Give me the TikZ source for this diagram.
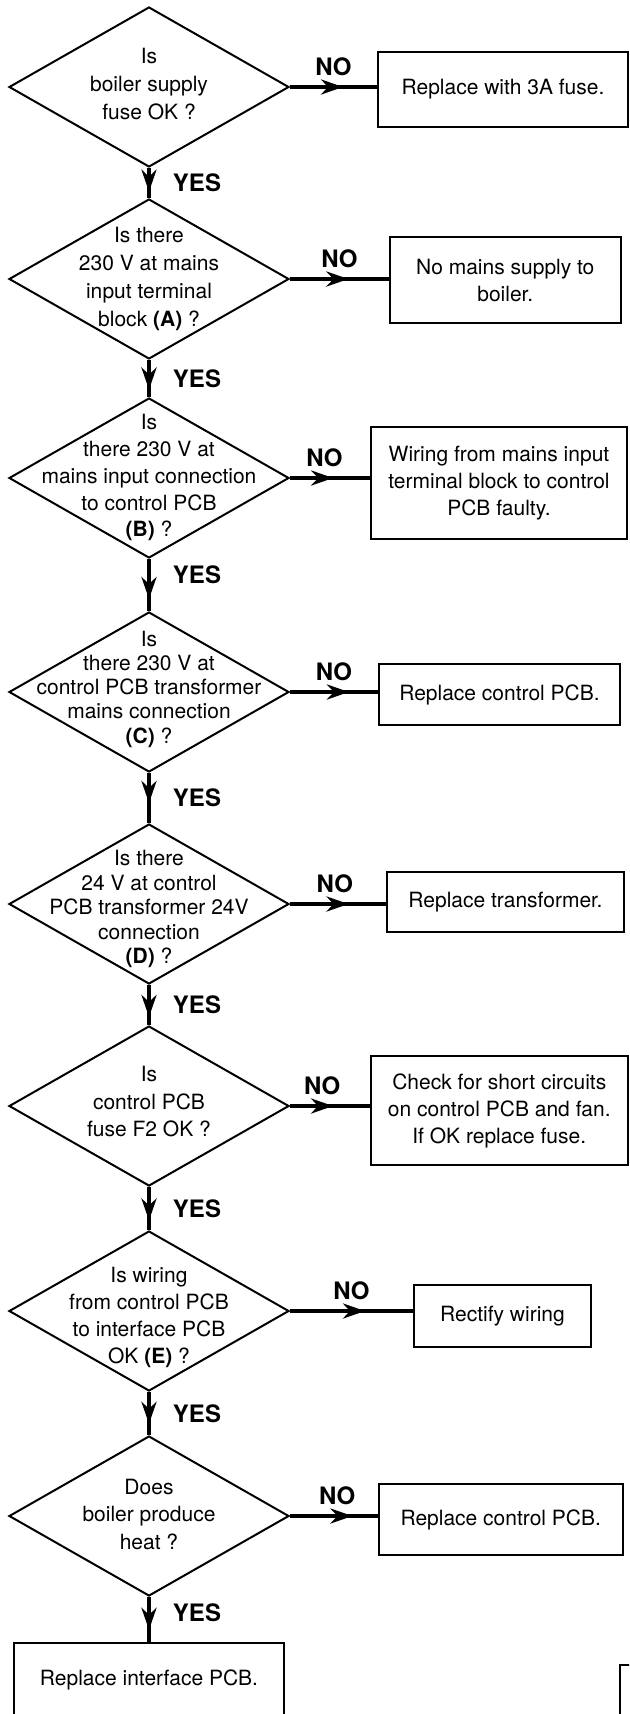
\documentclass[tikz,border=0pt]{standalone}
\usepackage{fontspec}
\setmainfont{TeX Gyre Heros}
\usetikzlibrary{shapes.geometric,arrows.meta,decorations.markings,calc}
\newcommand\dtxt[3]{\raisebox{#2}[0pt][0pt]{\vbox to 0pt{\vss\hbox to 0pt{\hss\fontsize{10.5pt}{#1}\selectfont\begin{tabular}{@{}c@{}}#3\end{tabular}\hss}\vss}}}
\begin{document}
\begin{tikzpicture}[x=0.5pt,y=-0.5pt,
  dia/.style={diamond, draw, line width=1pt, minimum width=140pt, minimum height=80pt, inner sep=0pt},
  res/.style={rectangle, draw, line width=1pt, inner sep=0pt, align=center, font=\fontsize{10.5pt}{13.5pt}\selectfont},
  flow/.style={line width=2.3pt, postaction={decorate}, decoration={markings, mark=at position #1 with {\arrow{Stealth[length=11pt,width=7.5pt,inset=3.5pt]}}}},
  flow/.default=0.6,
  lbl/.style={font=\bfseries\fontsize{12pt}{14pt}\selectfont, inner sep=0pt}]
\fill[white] (0,0) rectangle (629,1714);
\useasboundingbox (0,0) rectangle (629,1714);
\clip (0,0) rectangle (629,1714);

% decisions
\node[dia] (D1) at (149,87) {\dtxt{14pt}{0.5pt}{Is\\boiler supply\\fuse OK ?}};
\node[dia] (D2) at (149,279) {\dtxt{13.85pt}{0pt}{Is there\\230 V at mains\\input terminal\\block \textbf{(A)} ?}};
\node[dia] (D3) at (149,478) {\dtxt{13.4pt}{0pt}{Is\\there 230 V at\\mains input connection\\to control PCB\\\textbf{(B)} ?}};
\node[dia] (D4) at (149,692) {\dtxt{12.1pt}{1.1pt}{Is\\there 230 V at\\control PCB transformer\\mains connection\\\textbf{(C)} ?}};
\node[dia] (D5) at (149,904) {\dtxt{12.25pt}{-3pt}{Is there\\24 V at control\\PCB transformer 24V\\connection\\\textbf{(D)} ?}};
\node[dia] (D6) at (149,1106) {\dtxt{13.75pt}{1.25pt}{Is\\control PCB\\fuse F2 OK ?}};
\node[dia] (D7) at (149,1311) {\dtxt{13.5pt}{-3.3pt}{Is wiring\\from control PCB\\to interface PCB\\OK \textbf{(E)} ?}};
\node[dia] (D8) at (149,1516) {\dtxt{13.75pt}{0pt}{Does\\boiler produce\\heat ?}};

% results
\node[res, minimum width=125pt, minimum height=37.5pt] (B1) at (503,89.5) {Replace with 3A fuse.};
\node[res, minimum width=115.25pt, minimum height=43pt] (B2) at (505.25,280) {No mains supply to\\boiler.};
\node[res, minimum width=128pt, minimum height=56pt] (B3) at (499,483) {Wiring from mains input\\terminal block to control\\PCB faulty.};
\node[res, minimum width=120.5pt, minimum height=30.5pt] (B4) at (499.5,694.5) {Replace control PCB.};
\node[res, minimum width=118.5pt, minimum height=30pt] (B5) at (505.5,902) {Replace transformer.};
\node[res, minimum width=128.5pt, minimum height=54.5pt] (B6) at (499.25,1110.5) {Check for short circuits\\on control PCB and fan.\\If OK replace fuse.};
\node[res, minimum width=88.5pt, minimum height=31pt] (B7) at (502.5,1316) {Rectify wiring};
\node[res, minimum width=121.75pt, minimum height=35.5pt] (B8) at (500.75,1519.5) {Replace control PCB.};
\node[res, minimum width=135pt, minimum height=36.5pt] (B9) at (149,1679.5) {Replace interface PCB.};

% NO connectors
\draw[flow=0.61] (D1.east) -- node(no1)[lbl,yshift=10pt]{NO} (D1.east -| B1.west);
\draw[flow=0.59] (D2.east) -- node(no2)[lbl,yshift=10pt]{NO} (D2.east -| B2.west);
\draw[flow=0.54] (D3.east) -- node(no3)[lbl,yshift=10pt,xshift=-2.75pt]{NO} (D3.east -| B3.west);
\draw[flow=0.67] (D4.east) -- node(no4)[lbl,yshift=10pt]{NO} (D4.east -| B4.west);
\draw[flow=0.61] (D5.east) -- node(no5)[lbl,yshift=10pt,xshift=-1.6pt]{NO} (D5.east -| B5.west);
\draw[flow=0.54] (D6.east) -- node(no6)[lbl,yshift=10pt,xshift=-3.8pt]{NO} (D6.east -| B6.west);
\draw[flow=0.61] (D7.east) -- node(no7)[lbl,yshift=10pt]{NO} (D7.east -| B7.west);
\draw[flow=0.71] (D8.east) -- node(no8)[lbl,yshift=10pt,xshift=1.6pt]{NO} (D8.east -| B8.west);

% YES connectors
\draw[flow=0.79] (D1.south) -- node(yes1)[lbl,xshift=24pt]{YES} (D2.north);
\draw[flow=0.80] (D2.south) -- node(yes2)[lbl,xshift=24pt]{YES} (D3.north);
\draw[flow=0.77] (D3.south) -- node(yes3)[lbl,xshift=24pt,yshift=5pt]{YES} (D4.north);
\draw[flow=0.60] (D4.south) -- node(yes4)[lbl,xshift=24pt]{YES} (D5.north);
\draw[flow=0.80] (D5.south) -- node(yes5)[lbl,xshift=24pt]{YES} (D6.north);
\draw[flow=0.78] (D6.south) -- node(yes6)[lbl,xshift=24pt]{YES} (D7.north);
\draw[flow=0.74] (D7.south) -- node(yes7)[lbl,xshift=24pt]{YES} (D8.north);
\draw[flow=0.73] (D8.south) -- node(yes8)[lbl,xshift=24pt,yshift=3.25pt]{YES} (B9.north);

% cropped box corner at lower right
\draw[line width=1pt] (620,1665) rectangle (720,1780);
\end{tikzpicture}
\end{document}
